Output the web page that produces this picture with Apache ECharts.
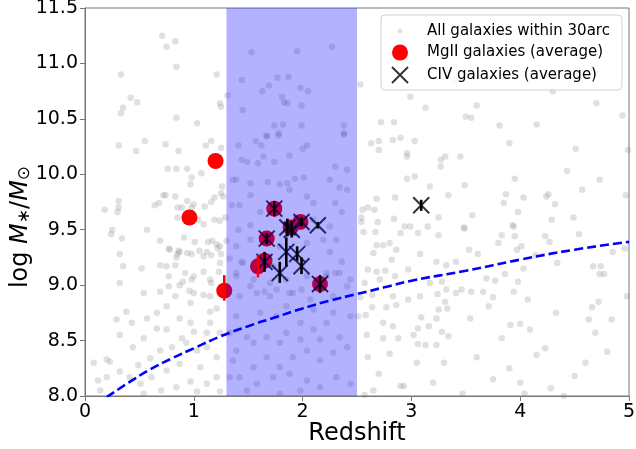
<!DOCTYPE html>
<html>
<head>
<meta charset="utf-8">
<script src="https://cdn.jsdelivr.net/npm/echarts@6/dist/echarts.min.js"></script>
<style>
html,body{margin:0;padding:0;background:#fff;}
#chart{width:636px;height:449px;}
</style>
</head>
<body>
<div id="chart"></div>
<script>
// ---- axis ranges & ticks ----
const xMin = 0, xMax = 5, xStep = 1;
const yMin = 8.0, yMax = 11.5, yStep = 0.5;

// ---- highlighted redshift band ----
const bandStart = 1.3, bandEnd = 2.5;

// ---- all galaxies within 30 arcsec (redshift, log M*) ----
const allGalaxies = [
[0.71,11.25],[0.83,11.20],[0.75,11.15],[0.84,10.97],[0.33,10.90],[1.21,10.90],[1.53,11.10],[1.95,11.11],[2.27,11.15],[2.53,10.81],
[1.44,10.85],[1.77,10.87],[1.87,10.88],[1.69,10.80],[1.63,10.75],[1.98,10.78],[2.05,10.75],[1.31,10.71],[0.42,10.69],[0.48,10.65],
[0.35,10.60],[0.33,10.55],[1.24,10.64],[1.25,10.61],[1.81,10.70],[1.83,10.65],[1.86,10.64],[1.99,10.62],[1.45,10.58],[0.84,10.51],
[1.03,10.46],[1.74,10.44],[1.82,10.45],[1.99,10.44],[2.38,10.44],[2.38,10.37],[1.67,10.35],[1.78,10.37],
[0.31,10.26],[0.55,10.30],[0.47,10.21],[0.74,10.27],[0.86,10.21],[1.11,10.26],[1.16,10.30],[1.25,10.24],[0.76,10.05],[0.84,10.05],
[0.94,10.05],[0.98,9.97],[0.97,9.91],[1.07,10.01],[1.26,9.89],[1.25,9.83],[1.19,9.79],[1.27,9.80],[1.16,9.75],[1.10,9.71],
[0.72,9.81],[0.74,9.81],[0.83,9.80],[0.68,9.74],[0.64,9.72],[0.31,9.76],[0.31,9.70],[0.30,9.66],[0.18,9.68],[0.85,9.70],
[0.89,9.70],[0.94,9.76],[1.00,9.73],[0.98,9.70],[0.85,9.61],[1.04,9.59],[1.09,9.55],[1.19,9.59],[1.24,9.58],[1.29,9.61],
[0.25,9.50],[0.24,9.46],[0.34,9.42],[0.57,9.50],[0.69,9.40],[0.91,9.43],[1.01,9.39],[1.13,9.39],[1.17,9.40],[1.21,9.37],
[1.24,9.35],[1.30,9.40],[0.77,9.33],[0.86,9.31],[0.85,9.28],[0.94,9.29],[0.98,9.28],[1.05,9.31],[1.09,9.26],[1.12,9.30],
[1.16,9.27],[1.22,9.33],[1.25,9.28],[0.32,9.28],[0.84,9.25],
[0.75,8.81],[0.83,8.90],[0.77,8.99],[0.90,9.03],[0.98,9.05],[1.00,8.93],[1.09,8.91],[1.16,9.02],[0.75,9.17],[0.83,9.18],
[0.92,9.11],[1.00,9.08],[1.09,9.12],[1.15,9.05],[1.24,9.20],[1.23,9.12],[0.78,9.32],[0.87,9.30],[1.15,8.90],[0.97,8.84],
[0.35,9.17],[0.32,9.02],[0.52,9.15],[0.69,9.18],[0.77,9.08],[0.54,8.93],[0.69,8.94],[0.87,9.00],[0.96,8.95],[0.29,8.69],
[0.38,8.76],[0.43,8.66],[0.57,8.70],[0.66,8.75],[0.87,8.70],[0.97,8.66],[1.00,8.58],[0.89,8.52],[0.75,8.60],[0.66,8.61],
[0.54,8.52],[0.44,8.44],[0.32,8.55],[0.20,8.33],[0.23,8.31],[0.32,8.22],[0.20,8.17],[0.14,8.05],[0.41,8.17],[0.49,8.28],
[0.60,8.34],[0.69,8.41],[0.80,8.44],[0.93,8.48],[1.03,8.41],[1.12,8.44],[1.21,8.35],[1.06,8.26],[0.87,8.29],[0.75,8.23],
[0.61,8.17],[0.51,8.11],[0.70,8.05],[0.84,8.08],[0.97,8.13],[1.12,8.11],[1.21,8.17],[1.24,8.04],[1.03,8.04],[0.54,8.02],
[1.15,8.76],[1.21,8.79],[1.12,8.57],[1.24,8.57],[1.15,8.66],[0.12,8.14],[0.08,8.30],
[1.39,8.41],[1.49,8.53],[1.55,8.48],[1.67,8.53],[1.79,8.48],[1.85,8.57],[1.98,8.66],[2.10,8.60],[2.22,8.66],[2.34,8.53],
[2.41,8.44],[2.28,8.39],[2.16,8.32],[2.04,8.41],[1.91,8.35],[1.79,8.26],[1.67,8.35],[1.55,8.26],[1.42,8.17],[1.58,8.11],
[1.73,8.17],[1.88,8.20],[2.04,8.14],[2.16,8.08],[2.31,8.17],[2.44,8.11],[1.49,8.05],[1.79,8.02],[1.98,8.05],[1.39,8.72],
[1.61,8.75],[1.76,8.72],[1.85,8.81],[2.10,8.78],[2.28,8.75],[2.44,8.72],[1.42,8.90],[1.58,8.93],[1.70,8.90],[1.91,8.93],
[2.07,8.87],[2.28,8.90],[2.41,8.99],[2.22,9.08],[2.34,9.11],[2.44,9.05],[1.39,9.11],[1.45,9.20],[1.55,9.05],[1.70,9.02],
[1.85,9.05],[2.04,9.08],[1.33,8.17],[1.33,8.57],[1.36,8.32],[2.16,8.51],[1.98,8.51],
[2.54,9.57],[2.56,9.48],[2.67,9.48],[2.68,9.36],[2.74,9.36],[2.80,9.38],[2.86,9.32],[2.90,9.47],[2.94,9.53],[2.99,9.53],
[3.06,9.47],[3.15,9.53],[3.25,9.45],[3.49,9.51],[3.53,9.32],[3.61,9.28],[3.80,9.38],[3.83,9.45],[3.94,9.53],[3.95,9.44],
[4.01,9.35],[3.97,9.32],[4.14,9.27],[4.23,9.44],[4.27,9.39],[4.54,9.46],[4.34,9.20],[4.67,9.17],[4.74,9.17],[4.73,9.10],
[4.77,9.10],[4.85,9.30],[4.96,9.33],[2.65,9.29],[2.82,9.23],[3.08,9.28],[3.23,9.21],[3.32,9.18],[3.41,9.21],[2.97,9.14],
[2.60,9.14],[2.68,9.12],[2.76,9.13],[2.85,9.08],[2.71,9.05],[2.57,9.02],[3.17,9.02],[3.28,9.03],[3.86,9.10],[3.69,9.06],
[3.77,9.04],[3.98,9.03],[4.03,9.15],[3.94,8.94],[3.75,8.89],[3.66,8.94],[3.55,8.94],[3.46,8.96],[3.41,8.93],[3.32,8.96],
[3.24,8.92],[3.08,8.90],[2.97,8.87],[2.83,8.90],[2.64,8.91],[2.53,8.89],[4.07,8.87],[3.71,8.81],[3.31,8.85],[3.25,8.78],
[3.16,8.63],[3.23,8.70],[3.33,8.79],[3.09,8.71],[2.86,8.82],[2.77,8.80],[2.64,8.80],[2.58,8.73],[2.51,8.72],[2.74,8.66],
[2.83,8.63],[3.06,8.61],[3.28,8.58],[3.34,8.54],[3.02,8.55],[2.88,8.52],[2.74,8.52],[2.59,8.55],[3.54,8.70],[3.91,8.64],
[4.00,8.65],[4.09,8.60],[3.83,8.52],[4.33,8.75],[4.63,8.69],[4.66,8.80],[4.72,8.85],[4.84,8.69],[4.69,8.57],[4.98,8.90],
[4.23,8.43],[3.06,8.47],[3.13,8.46],[3.23,8.46],
[2.72,10.47],[2.84,10.47],[2.63,10.28],[2.70,10.30],[2.70,10.22],[2.83,10.31],[2.90,10.33],[3.03,10.30],[2.96,10.19],[2.96,10.16],
[3.27,10.13],[3.31,10.16],[3.27,10.07],[3.45,10.16],[3.60,10.62],[3.55,10.51],[3.81,10.44],[4.94,10.53],[4.51,10.23],[4.43,10.03],
[4.73,9.95],[4.57,9.86],[2.96,9.96],[3.03,9.98],[3.17,9.89],[3.49,9.90],[3.34,9.81],[3.95,9.96],[3.87,9.82],[3.85,9.74],
[4.03,9.79],[3.98,9.66],[4.24,9.80],[4.26,9.82],[4.32,9.73],[4.29,9.59],[4.49,9.61],[3.93,9.54],[3.56,9.63],[3.48,9.52],
[3.25,9.61],[2.68,9.78],[2.85,9.79],[2.55,9.68],[2.60,9.70],[2.66,9.68],[2.84,9.60],[2.69,9.57],[4.97,9.81],[4.99,10.22],[2.54,9.61],
[1.41,10.26],[1.57,10.30],[1.67,10.34],[1.78,10.35],[1.62,10.26],[1.44,10.13],[1.49,10.11],[1.59,10.10],[1.74,10.11],[1.64,10.16],
[1.88,10.17],[2.00,10.23],[2.04,10.26],[2.38,10.36],[1.36,9.95],[1.39,9.95],[1.52,9.92],[1.68,9.93],[1.79,9.91],[1.86,9.92],
[1.93,9.96],[2.01,9.97],[2.25,9.95],[2.34,9.88],[2.04,9.80],[2.10,9.74],[1.88,9.86],[1.52,9.81],[1.42,9.72],[1.35,9.72],
[1.61,9.66],[1.52,9.54],[1.41,9.50],[1.39,9.35],[1.33,9.24],[1.44,9.21],[1.39,9.08],[1.52,8.99],[1.65,8.94],[1.76,8.96],
[1.88,8.93],[1.99,8.96],[2.22,9.11],[2.30,9.11],[2.36,9.21],[2.25,9.30],[2.31,9.41],[2.19,9.41],[2.25,9.53],[2.36,9.66],
[2.30,9.74],[2.41,9.86],[2.41,10.04],[2.30,10.07],[2.10,9.59],[2.04,9.38],[1.79,9.35],[1.52,9.41],[1.73,9.17],
[2.90,8.09],[2.93,8.09],[3.47,8.02],[4.00,8.12],[4.04,8.02],[4.28,8.07],[4.40,8.00],[2.57,8.01],[3.30,8.30],[3.60,8.35],
[3.90,8.25],[4.60,8.30],[4.80,8.40],[2.60,8.35],[2.70,8.20],[2.80,8.38],[3.05,8.30],[3.20,8.12],[4.15,8.37],[3.75,8.15],
[4.50,8.18],[2.65,8.05],
[2.99,10.70],[3.13,10.60],[3.50,10.52],[4.70,10.64],[3.40,10.85],[4.30,10.75],[4.15,10.45],[3.90,10.28]
];

// ---- MgII galaxies (average) ----
const mgX   = [0.96, 1.20, 1.28, 1.59, 1.65, 1.67, 1.74, 1.89, 1.98, 2.16];
const mgY   = [9.61, 10.12, 8.95, 9.17, 9.22, 9.42, 9.69, 9.52, 9.57, 9.01];
const mgLo  = [9.61, 10.12, 8.86, 9.07, 9.22, 9.42, 9.69, 9.52, 9.57, 9.01];
const mgHi  = [9.61, 10.12, 9.09, 9.27, 9.22, 9.42, 9.69, 9.52, 9.57, 9.01];

// ---- CIV galaxies (average) ----
const civX  = [1.74, 1.99, 1.86, 1.90, 2.14, 1.67, 1.65, 1.79, 1.85, 1.95, 1.99, 2.16, 3.09];
const civY  = [9.69, 9.57, 9.52, 9.50, 9.54, 9.42, 9.21, 9.11, 9.30, 9.28, 9.17, 9.01, 9.72];
const civLo = [9.62, 9.53, 9.44, 9.43, 9.51, 9.37, 9.12, 9.02, 9.17, 9.22, 9.10, 8.93, 9.67];
const civHi = [9.76, 9.61, 9.60, 9.58, 9.57, 9.47, 9.30, 9.21, 9.43, 9.35, 9.25, 9.09, 9.77];

// ---- dashed limit curve ----
const curveX = [0.20, 0.40, 0.60, 0.80, 1.00, 1.25, 1.50, 1.75, 2.00, 2.25, 2.50, 2.75, 3.00, 3.50, 4.00, 4.50, 5.00];
const curveY = [7.99, 8.12, 8.24, 8.34, 8.43, 8.54, 8.63, 8.71, 8.79, 8.86, 8.92, 8.98, 9.04, 9.13, 9.23, 9.32, 9.39];

const names = ['All galaxies within 30arc', 'MgII galaxies (average)', 'CIV galaxies (average)'];

const FONT = 'DejaVu Sans';
const zip = (a, b) => a.map((v, i) => [v, b[i]]);
const errData = (xs, lo, hi) => xs.map((v, i) => [v, lo[i], hi[i]]);

function errRender(color) {
  return function (params, api) {
    const lo = api.value(1), hi = api.value(2);
    if (hi - lo <= 0) return null;
    const p1 = api.coord([api.value(0), lo]);
    const p2 = api.coord([api.value(0), hi]);
    return {
      type: 'line',
      shape: { x1: p1[0], y1: p1[1], x2: p2[0], y2: p2[1] },
      style: { stroke: color, lineWidth: 2.6 }
    };
  };
}

const chart = echarts.init(document.getElementById('chart'), null, { renderer: 'canvas' });
chart.setOption({
  animation: false,
  textStyle: { fontFamily: FONT },
  grid: {
    left: 85, right: 7, top: 8, bottom: 53,
    containLabel: false, outerBoundsMode: 'none',
    show: true, borderColor: '#777', borderWidth: 1, backgroundColor: 'transparent'
  },
  xAxis: {
    type: 'value', min: xMin, max: xMax, interval: xStep,
    name: 'Redshift', nameLocation: 'middle', nameGap: 26, nameMoveOverlap: false,
    nameTextStyle: { fontSize: 24, color: '#000', fontFamily: FONT },
    axisLine: { show: true, lineStyle: { color: '#777', width: 1 } },
    axisTick: { show: true, inside: false, length: 5, lineStyle: { color: '#777' } },
    axisLabel: { fontSize: 19, color: '#000', margin: 7, fontFamily: FONT },
    splitLine: { show: false }
  },
  yAxis: {
    type: 'value', min: yMin, max: yMax, interval: yStep,
    name: '{a|log }{b|M}{c|∗}{a|/}{b|M}{c|⊙}', nameLocation: 'middle', nameGap: 52, nameRotate: 90,
    nameMoveOverlap: false,
    nameTextStyle: {
      fontSize: 24, color: '#000', fontFamily: FONT, align: 'center', padding: [0, 50, 0, 0],
      rich: {
        a: { fontSize: 24, fontFamily: FONT, color: '#000' },
        b: { fontSize: 24, fontFamily: FONT, fontStyle: 'italic', color: '#000' },
        c: { fontSize: 17, fontFamily: FONT, color: '#000', verticalAlign: 'bottom' }
      }
    },
    axisLine: { show: true, lineStyle: { color: '#777', width: 1 } },
    axisTick: { show: true, inside: false, length: 5, lineStyle: { color: '#777' } },
    axisLabel: { fontSize: 19, color: '#000', margin: 7, fontFamily: FONT, formatter: v => v.toFixed(1) },
    splitLine: { show: false }
  },
  legend: {
    orient: 'vertical', left: 381, top: 15,
    padding: [8, 12, 6, 10],
    itemWidth: 22, itemHeight: 16, itemGap: 5.5,
    borderColor: '#d0d0d0', borderWidth: 1, borderRadius: 4,
    backgroundColor: 'rgba(255,255,255,0.8)',
    textStyle: { fontSize: 15, color: '#000', fontFamily: FONT, padding: [0, 0, 0, 11] },
    selectedMode: false,
    data: [
      { name: names[0], icon: 'path://M0,0L0,0M100,100L100,100M50,35A15,15,0,1,1,50,65A15,15,0,1,1,50,35Z' },
      { name: names[1], icon: 'circle' },
      { name: names[2] }
    ]
  },
  series: [
    {
      name: names[0], type: 'scatter', z: 1,
      symbol: 'circle', symbolSize: 6.5,
      itemStyle: { color: 'rgba(128,128,128,0.3)' },
      data: allGalaxies
    },
    {
      name: names[1], type: 'scatter', z: 2,
      symbol: 'circle', symbolSize: 16,
      itemStyle: { color: '#ff0000', opacity: 1 },
      data: zip(mgX, mgY)
    },
    {
      name: names[2], type: 'scatter', z: 3,
      symbol: 'path://M0,0L10,10M10,0L0,10', symbolSize: 16,
      itemStyle: { color: 'rgba(0,0,0,0)', borderColor: '#000', borderWidth: 2 },
      data: zip(civX, civY)
    },
    {
      type: 'custom', z: 4, silent: true,
      data: [[bandStart, bandEnd]],
      renderItem: function (params, api) {
        const p1 = api.coord([api.value(0), yMax]);
        const p2 = api.coord([api.value(1), yMin]);
        return {
          type: 'rect',
          shape: { x: p1[0], y: p1[1], width: p2[0] - p1[0], height: p2[1] - p1[1] },
          style: { fill: 'rgba(0,0,255,0.3)' }
        };
      }
    },
    {
      type: 'custom', z: 5, silent: true,
      data: errData(mgX, mgLo, mgHi),
      renderItem: errRender('#ff0000')
    },
    {
      type: 'custom', z: 5, silent: true,
      data: errData(civX, civLo, civHi),
      renderItem: errRender('#000000')
    },
    {
      type: 'line', z: 6, silent: true, smooth: true,
      symbol: 'none', clip: true,
      lineStyle: { color: '#0000ff', width: 2.6, type: [9, 4] },
      data: zip(curveX, curveY)
    }
  ]
});
</script>
</body>
</html>
